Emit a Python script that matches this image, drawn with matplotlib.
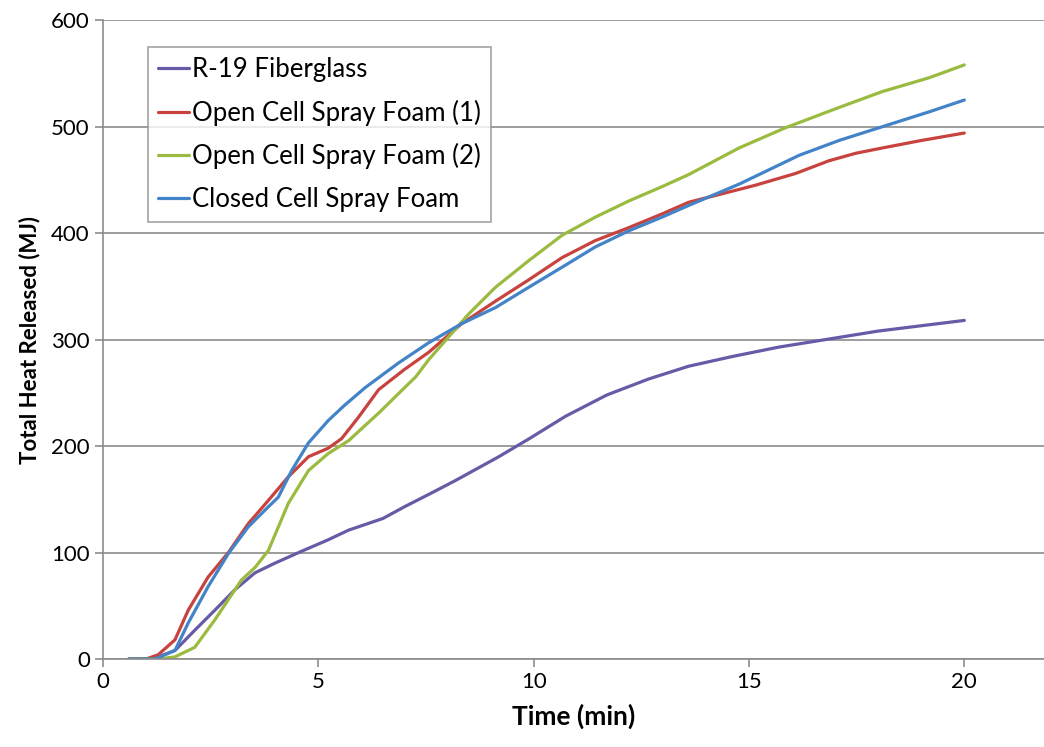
import numpy as np
import matplotlib
matplotlib.use('Agg')
import matplotlib.pyplot as plt

plt.rcParams['font.family'] = ['Lato', 'DejaVu Sans']

# Data (time in min, heat in MJ)
t_fiber = [0.6, 1.0, 1.28, 1.67, 2.13, 2.6, 3.06, 3.53, 3.99, 4.6, 5.23, 5.7, 6.5, 7.0,
           7.63, 8.2, 9.19, 9.9, 10.74, 11.7, 12.67, 13.6, 14.6, 15.7, 16.93, 18.0, 19.0, 20.0]
q_fiber = [0, 0, 2, 8, 27, 46, 65, 81, 90, 101, 112, 121, 132, 143,
           156, 168, 190, 207, 228, 248, 263, 275, 284, 293, 301, 308, 313, 318]

t_open1 = [0.6, 1.0, 1.28, 1.67, 1.98, 2.44, 2.91, 3.37, 3.84, 4.3, 4.77, 5.23, 5.54, 5.93,
           6.4, 7.0, 7.56, 8.33, 9.11, 9.88, 10.66, 11.43, 12.2, 12.98, 13.6, 14.38, 15.15,
           16.08, 16.86, 17.48, 18.1, 19.0, 20.0]
q_open1 = [0, 0, 4, 18, 46, 77, 100, 127, 149, 171, 190, 198, 207, 227,
           253, 272, 288, 315, 336, 356, 377, 393, 405, 418, 429, 437, 445,
           456, 468, 475, 480, 487, 494]

t_open2 = [0.6, 1.3, 1.67, 2.13, 2.6, 3.21, 3.53, 3.84, 4.3, 4.77, 5.23, 5.7, 6.4, 7.26,
           7.56, 8.1, 8.49, 9.11, 9.88, 10.66, 11.43, 12.2, 13.0, 13.6, 14.77, 15.85, 17.09,
           18.1, 19.19, 20.0]
q_open2 = [0, 0, 2, 11, 37, 74, 86, 102, 146, 177, 193, 205, 231, 265,
           281, 306, 324, 349, 374, 398, 415, 430, 444, 455, 480, 499, 518,
           533, 546, 558]

t_closed = [0.6, 1.2, 1.67, 1.98, 2.44, 2.91, 3.37, 3.84, 4.07, 4.38, 4.77, 5.23, 5.6,
            6.09, 6.86, 7.56, 8.33, 9.11, 9.88, 10.66, 11.43, 12.2, 12.98, 13.6, 14.77,
            16.16, 17.09, 18.1, 19.19, 20.0]
q_closed = [0, 0, 8, 34, 68, 99, 124, 143, 152, 177, 203, 224, 238,
            255, 278, 297, 315, 330, 349, 368, 387, 402, 415, 426, 446,
            473, 487, 500, 514, 525]

labels = ['R-19 Fiberglass', 'Open Cell Spray Foam (1)',
          'Open Cell Spray Foam (2)', 'Closed Cell Spray Foam']
colors = ['#675BA7', '#C8423E', '#9BBB40', '#4383C8']

fig = plt.figure(figsize=(10.44, 7.47), dpi=100)
ax = fig.add_axes([0.0987, 0.1178, 0.9013, 0.8552])

series = [(t_fiber, q_fiber), (t_open1, q_open1), (t_open2, q_open2), (t_closed, q_closed)]
for (t, q), lab, c in zip(series, labels, colors):
    ax.plot(t, q, color=c, lw=2.3, label=lab, solid_capstyle='round', solid_joinstyle='round')

ax.set_xlim(0, 21.85)
ax.set_ylim(0, 600)
ax.set_xticks([0, 5, 10, 15, 20])
ax.set_yticks(range(0, 601, 100))
ax.yaxis.grid(True, color='#8c8c8c', lw=1.2)
ax.set_axisbelow(True)
for s in ['top', 'right']:
    ax.spines[s].set_visible(False)
ax.spines['left'].set_color('#8c8c8c')
ax.spines['bottom'].set_color('#8c8c8c')
ax.spines['left'].set_linewidth(1.2)
ax.spines['bottom'].set_linewidth(1.2)
ax.tick_params(axis='both', colors='#8c8c8c', labelcolor='black', labelsize=16,
               length=6, width=1.2)

ax.set_xlabel('Time (min)', fontsize=19, fontweight='bold', labelpad=8)
ax.set_ylabel('Total Heat Released (MJ)', fontsize=16, fontweight='bold', labelpad=8)

leg = ax.legend(loc='upper left', bbox_to_anchor=(0.0478, 0.958), borderaxespad=0,
                fontsize=18.5, frameon=True, fancybox=False, handlelength=1.2,
                handletextpad=0.1, borderpad=0.4, labelspacing=0.68)
leg.get_frame().set_edgecolor('#8c8c8c')
leg.get_frame().set_linewidth(1.2)

fig.savefig('out.png', dpi=100)
